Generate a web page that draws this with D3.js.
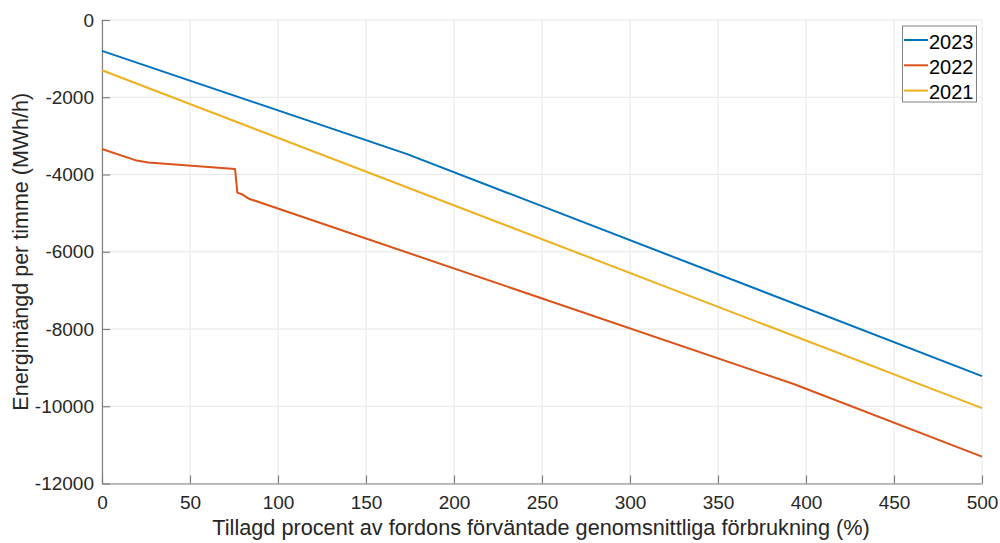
<!DOCTYPE html>
<html lang="sv">
<head>
    <meta charset="UTF-8">
    <title>Energimängd per timme</title>
    <script src="https://cdn.jsdelivr.net/npm/d3@7"></script>
    <style>
        body { margin: 0; background: #fff; }
        text { font-family: "Liberation Sans", Arial, sans-serif; }
    </style>
</head>
<body>
<script>
    // brytpunkter (procent, MWh/h)
    const pct2023 = [0, 173, 500];
    const val2023 = [-800, -3465, -9220];

    const pct2022 = [0, 19.7, 26.3, 75.6, 76.9, 79.4, 83.1, 393, 500];
    const val2022 = [-3340, -3640, -3690, -3860, -4470, -4510, -4620, -9425, -11305];

    const pct2021 = [0, 500];
    const val2021 = [-1300, -10050];

    const seriesNames = ["2023", "2022", "2021"];
    const seriesColors = ["#0072BD", "#D95319", "#EDB120"];

    const xTicks = [0, 50, 100, 150, 200, 250, 300, 350, 400, 450, 500];
    const yTicks = [0, -2000, -4000, -6000, -8000, -10000, -12000];

    const w = 1000, h = 543;
    const plotLeft = 102, plotRight = 982, plotTop = 20, plotBottom = 483.5;

    const series = [
        pct2023.map((p, i) => [p, val2023[i]]),
        pct2022.map((p, i) => [p, val2022[i]]),
        pct2021.map((p, i) => [p, val2021[i]])
    ];

    const xScale = d3.scaleLinear().domain([0, 500]).range([plotLeft, plotRight]);
    const yScale = d3.scaleLinear().domain([-12000, 0]).range([plotBottom, plotTop]);

    const svg = d3.select("body").append("svg")
        .attr("width", w)
        .attr("height", h);

    // rutnät
    svg.append("g")
        .selectAll("line")
        .data(xTicks)
        .enter()
        .append("line")
        .attr("x1", d => xScale(d)).attr("x2", d => xScale(d))
        .attr("y1", plotTop).attr("y2", plotBottom)
        .attr("stroke", "#e6e6e6").attr("stroke-width", 1);
    svg.append("g")
        .selectAll("line")
        .data(yTicks)
        .enter()
        .append("line")
        .attr("x1", plotLeft).attr("x2", plotRight)
        .attr("y1", d => yScale(d)).attr("y2", d => yScale(d))
        .attr("stroke", "#e6e6e6").attr("stroke-width", 1);

    // axlar, ticks inåt
    const fmt = d => String(d);
    const xAxis = svg.append("g")
        .attr("transform", "translate(0," + plotBottom + ")")
        .call(d3.axisBottom(xScale).tickValues(xTicks).tickFormat(fmt)
            .tickSizeInner(-8).tickSizeOuter(0).tickPadding(12));
    const yAxis = svg.append("g")
        .attr("transform", "translate(" + plotLeft + ",0)")
        .call(d3.axisLeft(yScale).tickValues(yTicks).tickFormat(fmt)
            .tickSizeInner(-8).tickSizeOuter(0).tickPadding(8));

    [xAxis, yAxis].forEach(a => {
        a.select(".domain").attr("stroke", "#808080").attr("stroke-width", 1.2);
        a.selectAll(".tick line").attr("stroke", "#808080").attr("stroke-width", 1.2);
        a.selectAll("text")
            .attr("fill", "#262626")
            .attr("font-size", "19px")
            .attr("font-family", "'Liberation Sans', Arial, sans-serif");
    });

    // linjer
    const line = d3.line()
        .x(d => xScale(d[0]))
        .y(d => yScale(d[1]));

    svg.append("g")
        .selectAll("path")
        .data(series)
        .enter()
        .append("path")
        .attr("d", line)
        .attr("fill", "none")
        .attr("stroke", (d, i) => seriesColors[i])
        .attr("stroke-width", 2)
        .attr("stroke-linejoin", "round");

    // axeltitlar
    svg.append("text")
        .text("Tillagd procent av fordons förväntade genomsnittliga förbrukning (%)")
        .attr("x", 541)
        .attr("y", 535)
        .attr("text-anchor", "middle")
        .attr("font-size", "21.7px")
        .attr("fill", "#262626");

    svg.append("text")
        .text("Energimängd per timme (MWh/h)")
        .attr("transform", "translate(28," + ((plotTop + plotBottom) / 2) + ") rotate(-90)")
        .attr("text-anchor", "middle")
        .attr("font-size", "21.5px")
        .attr("fill", "#262626");

    // legend
    const legend = svg.append("g");
    legend.append("rect")
        .attr("x", 902.5).attr("y", 26)
        .attr("width", 74).attr("height", 76)
        .attr("fill", "#fff")
        .attr("stroke", "#808080").attr("stroke-width", 1);

    const items = legend.selectAll("g")
        .data(seriesNames)
        .enter()
        .append("g")
        .attr("transform", (d, i) => "translate(0," + (40 + i * 25.3) + ")");
    items.append("line")
        .attr("x1", 904).attr("x2", 928)
        .attr("y1", 0).attr("y2", 0)
        .attr("stroke", (d, i) => seriesColors[i])
        .attr("stroke-width", 2);
    items.append("text")
        .text(d => d)
        .attr("x", 929)
        .attr("y", 8.5)
        .attr("font-size", "20px")
        .attr("fill", "#000");
</script>
</body>
</html>
